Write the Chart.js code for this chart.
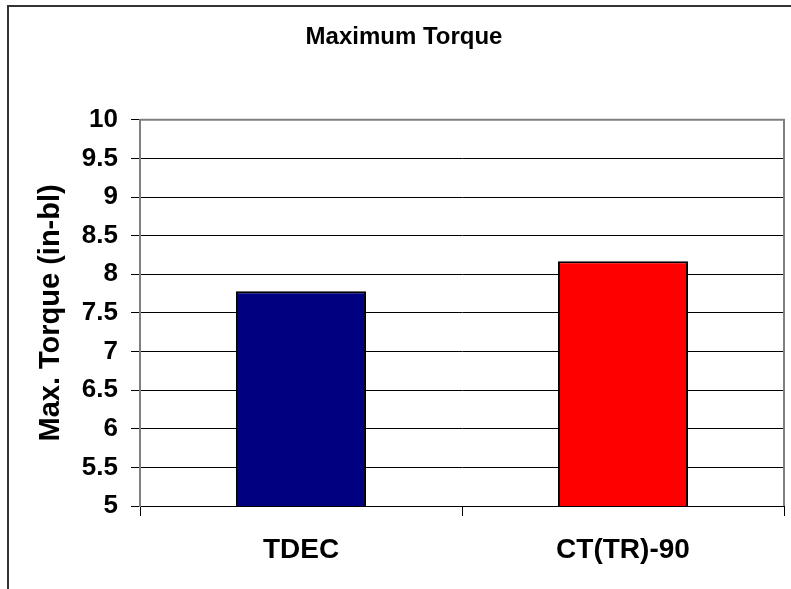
<!DOCTYPE html>
<html>
<head>
<meta charset="utf-8">
<script src="https://cdn.jsdelivr.net/npm/chart.js@4"></script>
<style>
  body { margin: 0; background: #fff; }
  #wrap { width: 791px; height: 589px; position: relative; }
</style>
</head>
<body>
<div id="wrap"><canvas id="torqueChart"></canvas></div>
<script>
// Values
const categories = ["TDEC", "CT(TR)-90"];
const maxTorque = [7.78, 8.17];
const barColors = ["#000080", "#FF0000"];
const yTicks = [5, 5.5, 6, 6.5, 7, 7.5, 8, 8.5, 9, 9.5, 10];

const FONT = "'Liberation Sans', Arial, sans-serif";

// Excel style frame: outer chart border plus gray plot area border on top/right
const framePlugin = {
  id: "frame",
  afterDraw(chart) {
    const ctx = chart.ctx;
    const a = chart.chartArea;
    ctx.save();
    ctx.strokeStyle = "#808080";
    ctx.lineWidth = 2;
    ctx.beginPath();
    ctx.moveTo(a.left, a.top);
    ctx.lineTo(a.right, a.top);
    ctx.lineTo(a.right, a.bottom);
    ctx.stroke();

    ctx.strokeStyle = "#333";
    ctx.beginPath();
    ctx.moveTo(8, chart.height);
    ctx.lineTo(8, 6);
    ctx.lineTo(chart.width, 6);
    ctx.stroke();
    ctx.restore();
  },
};

new Chart("torqueChart", {
  type: "bar",
  data: {
    labels: categories,
    datasets: [
      {
        label: "Max. Torque",
        data: maxTorque,
        backgroundColor: barColors,
        borderColor: "#000",
        borderWidth: 2,
        categoryPercentage: 1,
        barPercentage: 0.404,
      },
    ],
  },
  options: {
    responsive: true,
    maintainAspectRatio: false,
    animation: false,
    layout: { padding: { left: 24, right: 7, top: 0, bottom: 0 } },
    plugins: {
      legend: { display: false },
      tooltip: { enabled: false },
      title: {
        display: true,
        text: "Maximum Torque",
        color: "#000",
        font: { family: FONT, size: 24, weight: "bold" },
        padding: { top: 23, bottom: 68 },
      },
    },
    scales: {
      x: {
        grid: {
          drawOnChartArea: false,
          drawTicks: true,
          tickLength: 10,
          color: "#000",
        },
        border: { color: "#000", width: 1 },
        ticks: {
          color: "#000",
          padding: 17,
          font: { family: FONT, size: 28, weight: "bold" },
        },
        afterFit(scale) {
          scale.height = 83;
        },
      },
      y: {
        min: 5,
        max: 10,
        afterBuildTicks(scale) {
          scale.ticks = yTicks.map((v) => ({ value: v }));
        },
        grid: {
          color: "#000",
          lineWidth: 1,
          tickLength: 9,
        },
        border: { color: "#808080", width: 2 },
        ticks: {
          color: "#000",
          padding: 13,
          font: { family: FONT, size: 26, weight: "bold" },
          callback: (v) => String(v),
        },
        title: {
          display: true,
          text: "Max. Torque (in-bl)",
          color: "#000",
          font: { family: FONT, size: 29, weight: "bold" },
          padding: { top: 10, bottom: 0 },
        },
        afterFit(scale) {
          scale.width = 116;
        },
      },
    },
  },
  plugins: [framePlugin],
});
</script>
</body>
</html>
